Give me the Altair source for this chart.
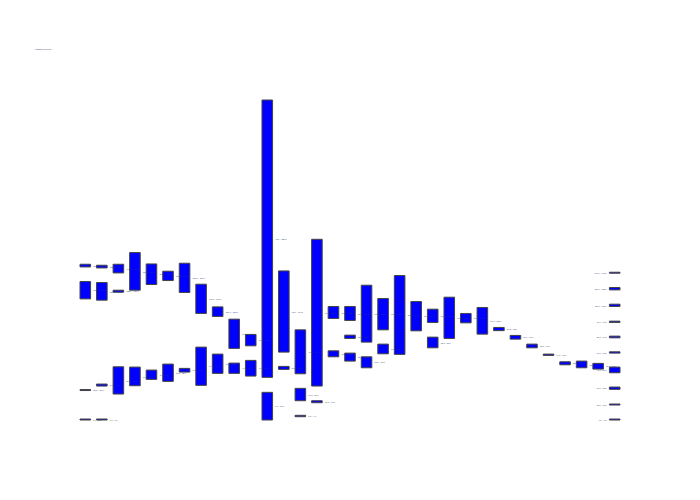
import altair as alt
import pandas as pd

TITLE = "Waterfall overview"
N_COLS = 33
TEXT_COLOR = "#2a3f5f"

# one entry per floating bar: column index, bottom value, top value
bar_col = [
    0, 0, 0, 0,
    1, 1, 1, 1,
    2, 2, 2,
    3, 3,
    4, 4,
    5, 5,
    6, 6,
    7, 7,
    8, 8,
    9, 9,
    10, 10,
    11, 11,
    12, 12,
    13, 13, 13,
    14, 14,
    15, 15,
    16, 16, 16,
    17, 17,
    18, 18,
    19,
    20,
    21, 21,
    22,
    23,
    24,
    25,
    26,
    27,
    28,
    29,
    30,
    31,
    32, 32, 32, 32, 32, 32, 32, 32, 32, 32,
]
bar_low = [
    153.3, 121.3, 29.5, 0.0,
    152.3, 120.0, 34.0, 0.0,
    147.3, 128.0, 26.0,
    130.0, 34.3,
    135.7, 40.7,
    139.7, 38.7,
    127.7, 48.0,
    106.7, 34.7,
    103.7, 46.7,
    71.7, 46.7,
    74.3, 44.0,
    42.7, 0.0,
    68.0, 50.7,
    46.3, 19.3, 3.3,
    34.0, 17.3,
    101.7, 63.3,
    99.7, 81.7, 59.0,
    78.0, 52.3,
    90.3, 66.3,
    65.7,
    89.3,
    97.7, 72.3,
    81.7,
    97.3,
    86.0,
    89.5,
    81.0,
    72.3,
    64.7,
    55.3,
    52.3,
    51.0,
    147.0, 130.3, 113.7, 97.7, 82.3, 67.0, 47.3, 30.7, 15.0, 0.0,
]
bar_high = [
    156.0, 138.7, 30.5, 1.0,
    155.0, 137.7, 36.0, 1.0,
    156.0, 130.0, 53.3,
    167.7, 53.0,
    156.3, 50.0,
    149.0, 56.0,
    157.0, 51.7,
    136.0, 73.0,
    113.3, 66.0,
    101.0, 57.0,
    85.7, 59.7,
    320.5, 27.7,
    149.3, 53.7,
    90.3, 31.7, 4.7,
    181.0, 19.3,
    113.7, 69.3,
    113.7, 85.0, 67.0,
    135.0, 63.3,
    121.7, 76.0,
    144.7,
    118.7,
    111.0, 83.0,
    123.0,
    106.7,
    112.7,
    92.7,
    84.7,
    76.0,
    66.0,
    58.3,
    59.0,
    56.7,
    148.0, 132.7, 116.0, 99.0, 84.0, 68.3, 53.0, 33.0, 16.0, 1.0,
]

df = pd.DataFrame({"col": bar_col, "low": bar_low, "high": bar_high})
df["mid"] = (df["low"] + df["high"]) / 2
df["label"] = [f"{lo:.1f} – {hi:.1f}" for lo, hi in zip(df["low"], df["high"])]
df["side"] = ["left" if c == N_COLS - 1 else "right" for c in df["col"]]

x_enc = alt.X(
    "col:O",
    scale=alt.Scale(domain=list(range(N_COLS)), paddingInner=0.36, paddingOuter=0),
    axis=None,
)
y_scale = alt.Scale(domain=[0, 320.5], nice=False, zero=False)

bars = (
    alt.Chart(df)
    .mark_bar(color="#0000ff", stroke="#444444", strokeWidth=1)
    .encode(
        x=x_enc,
        y=alt.Y("low:Q", scale=y_scale, axis=None),
        y2="high:Q",
    )
)

labels_right = (
    alt.Chart(df)
    .transform_filter(alt.datum.side == "right")
    .mark_text(align="left", baseline="middle", dx=8, fontSize=2, color=TEXT_COLOR)
    .encode(x=x_enc, y=alt.Y("mid:Q", scale=y_scale, axis=None), text="label:N")
)

labels_left = (
    alt.Chart(df)
    .transform_filter(alt.datum.side == "left")
    .mark_text(align="right", baseline="middle", dx=-8, fontSize=2, color=TEXT_COLOR)
    .encode(x=x_enc, y=alt.Y("mid:Q", scale=y_scale, axis=None), text="label:N")
)

chart = (
    (bars + labels_right + labels_left)
    .properties(
        width=540,
        height=320,
        title=alt.TitleParams(
            TITLE, anchor="start", frame="group", fontSize=2,
            fontWeight="normal", color=TEXT_COLOR, dx=-45, offset=50,
        ),
        padding={"left": 72, "top": 92, "right": 72, "bottom": 72},
        autosize=alt.AutoSizeParams(type="none"),
    )
    .configure_view(stroke=None)
)

chart.save("out.html", embed_options={"renderer": "svg", "actions": False})
